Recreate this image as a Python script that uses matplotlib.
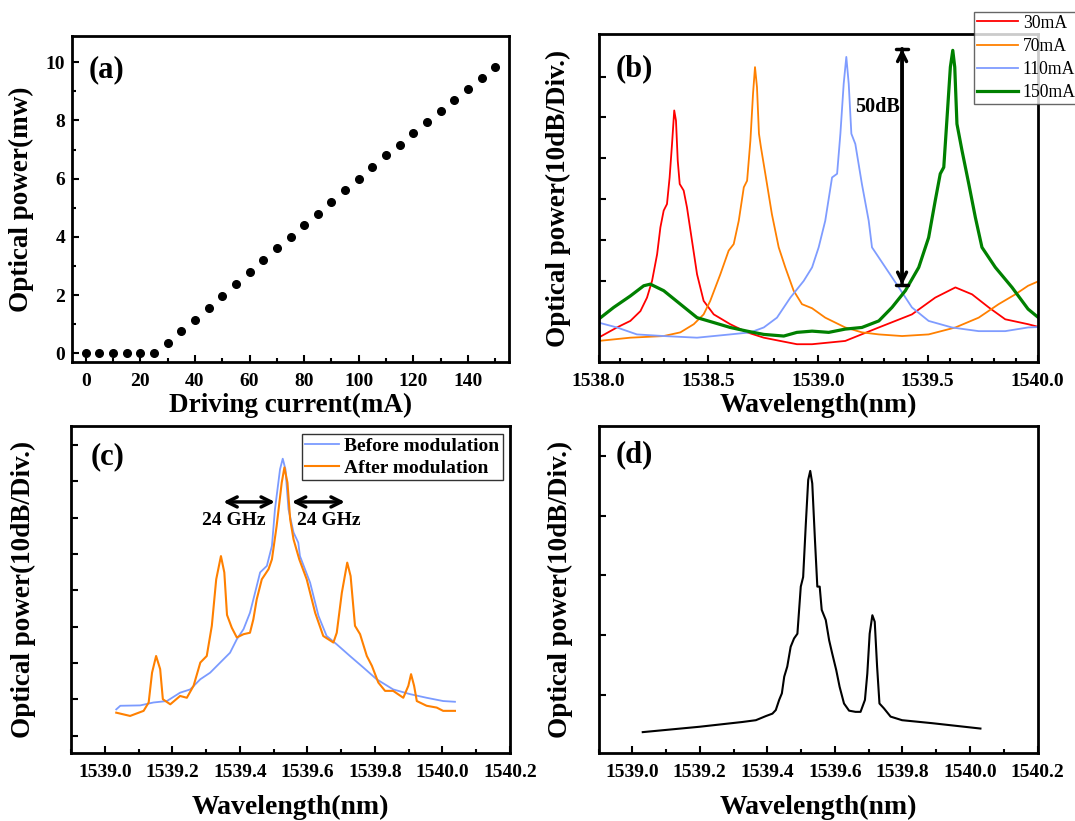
import numpy as np
import matplotlib
matplotlib.use('Agg')
import matplotlib.pyplot as plt
from matplotlib.ticker import MultipleLocator, FormatStrFormatter

plt.rcParams['font.family'] = ['Liberation Serif', 'DejaVu Serif']
plt.rcParams['font.weight'] = 'bold'
plt.rcParams['axes.labelweight'] = 'bold'
plt.rcParams['axes.linewidth'] = 2.0

# (a) L-I curve
current = [0, 5, 10, 15, 20, 25, 30, 35, 40, 45, 50, 55, 60, 65, 70, 75,
           80, 85, 90, 95, 100, 105, 110, 115, 120, 125, 130, 135, 140, 145, 150]
power = [0, 0, 0, 0, 0, 0, 0.35, 0.75, 1.15, 1.55, 1.97, 2.38, 2.78, 3.2, 3.6, 4.0,
         4.4, 4.8, 5.2, 5.6, 6.0, 6.4, 6.8, 7.17, 7.57, 7.93, 8.32, 8.7, 9.07, 9.45, 9.85]

# (b) spectra at several driving currents (dB, arbitrary reference)
wl_30 = [1538.000, 1538.084, 1538.145, 1538.191, 1538.221, 1538.244, 1538.267, 1538.282,
         1538.297, 1538.312, 1538.324, 1538.335, 1538.345, 1538.353, 1538.361, 1538.370,
         1538.388, 1538.403, 1538.426, 1538.449, 1538.479, 1538.525, 1538.600, 1538.677,
         1538.753, 1538.828, 1538.904, 1538.973, 1539.124, 1539.277, 1539.428, 1539.534,
         1539.626, 1539.702, 1539.778, 1539.853, 1539.957, 1540.000]
p_30 = [-73.9, -71.4, -69.8, -67.4, -64.1, -60.0, -53.5, -46.9,
        -42.8, -41.2, -34.7, -26.5, -18.3, -20.8, -30.6, -36.3,
        -37.9, -42.0, -50.2, -58.4, -64.9, -68.2, -70.6, -72.6,
        -73.9, -74.7, -75.5, -75.5, -74.7, -71.4, -68.2, -64.1,
        -61.6, -63.3, -66.5, -69.4, -70.6, -71.2]

wl_70 = [1538.000, 1538.145, 1538.297, 1538.373, 1538.434, 1538.479, 1538.509, 1538.555,
         1538.593, 1538.616, 1538.639, 1538.662, 1538.677, 1538.692, 1538.704, 1538.713,
         1538.722, 1538.731, 1538.740, 1538.760, 1538.790, 1538.821, 1538.851, 1538.889,
         1538.927, 1538.973, 1539.033, 1539.124, 1539.200, 1539.277, 1539.383, 1539.504,
         1539.626, 1539.732, 1539.823, 1539.899, 1539.957, 1540.000]
p_70 = [-74.7, -73.9, -73.5, -72.6, -70.6, -68.2, -64.9, -58.4,
        -52.6, -51.0, -45.3, -37.1, -35.5, -25.7, -14.2, -7.7,
        -12.6, -24.0, -27.3, -33.8, -43.7, -51.8, -56.7, -62.4,
        -65.7, -66.7, -69.0, -71.4, -72.6, -73.1, -73.5, -73.1,
        -71.4, -69.0, -65.7, -63.3, -61.2, -60.2]

wl_110 = [1538.000, 1538.084, 1538.175, 1538.297, 1538.449, 1538.600, 1538.692, 1538.753,
          1538.813, 1538.874, 1538.935, 1538.973, 1539.003, 1539.033, 1539.064, 1539.087,
          1539.102, 1539.117, 1539.129, 1539.140, 1539.152, 1539.170, 1539.200, 1539.231,
          1539.246, 1539.307, 1539.368, 1539.428, 1539.504, 1539.610, 1539.732, 1539.853,
          1539.957, 1540.000]
p_110 = [-70.2, -71.4, -73.1, -73.5, -73.9, -73.1, -72.6, -71.4,
         -69.0, -64.1, -60.0, -56.7, -51.8, -45.3, -34.7, -33.8,
         -24.0, -11.8, -5.2, -11.8, -24.0, -26.5, -36.3, -45.3,
         -51.8, -56.7, -61.6, -66.5, -69.8, -71.4, -72.3, -72.3,
         -71.4, -71.3]

wl_150 = [1538.000, 1538.069, 1538.145, 1538.206, 1538.236, 1538.297, 1538.373, 1538.449,
          1538.525, 1538.600, 1538.677, 1538.753, 1538.844, 1538.904, 1538.973, 1539.049,
          1539.124, 1539.200, 1539.277, 1539.337, 1539.398, 1539.459, 1539.504, 1539.534,
          1539.557, 1539.573, 1539.588, 1539.603, 1539.614, 1539.623, 1539.633, 1539.656,
          1539.687, 1539.717, 1539.747, 1539.808, 1539.884, 1539.957, 1540.000]
p_150 = [-69.4, -66.5, -63.7, -61.2, -60.8, -62.4, -65.7, -69.0,
         -70.2, -71.4, -72.3, -73.1, -73.5, -72.6, -72.3, -72.6,
         -71.8, -71.4, -69.8, -66.5, -62.4, -56.7, -49.4, -40.4,
         -33.8, -32.2, -20.0, -7.7, -3.6, -7.7, -21.6, -28.1,
         -36.3, -44.5, -51.8, -56.7, -61.6, -66.9, -68.8]

# (c) before / after modulation
wl_before = [1539.034, 1539.046, 1539.105, 1539.144, 1539.184, 1539.223, 1539.253, 1539.283,
             1539.312, 1539.342, 1539.371, 1539.391, 1539.411, 1539.430, 1539.445, 1539.460,
             1539.480, 1539.495, 1539.504, 1539.519, 1539.527, 1539.535, 1539.544, 1539.559,
             1539.573, 1539.578, 1539.608, 1539.633, 1539.657, 1539.687, 1539.726, 1539.766,
             1539.805, 1539.854, 1539.904, 1539.953, 1540.002, 1540.037]
p_before = [-72.8, -71.8, -71.7, -70.9, -70.5, -68.2, -67.3, -64.5,
            -62.7, -59.9, -57.2, -53.5, -50.7, -46.2, -40.7, -35.1,
            -33.3, -27.8, -17.7, -6.7, -3.8, -6.7, -17.7, -24.1,
            -26.9, -30.6, -37.9, -47.1, -52.6, -54.9, -58.1, -61.3,
            -64.5, -67.3, -68.6, -69.6, -70.5, -70.7]

wl_after = [1539.034, 1539.075, 1539.115, 1539.130, 1539.140, 1539.152, 1539.164, 1539.172,
            1539.194, 1539.223, 1539.243, 1539.263, 1539.283, 1539.302, 1539.317, 1539.330,
            1539.344, 1539.354, 1539.362, 1539.376, 1539.391, 1539.411, 1539.430, 1539.440,
            1539.450, 1539.465, 1539.485, 1539.495, 1539.509, 1539.524, 1539.532, 1539.541,
            1539.549, 1539.559, 1539.576, 1539.598, 1539.623, 1539.647, 1539.677, 1539.687,
            1539.702, 1539.718, 1539.728, 1539.741, 1539.756, 1539.776, 1539.791, 1539.810,
            1539.830, 1539.854, 1539.884, 1539.899, 1539.907, 1539.916, 1539.924, 1539.953,
            1539.983, 1540.002, 1540.037]
p_after = [-73.7, -74.6, -73.2, -70.9, -62.7, -58.1, -61.7, -70.0,
           -71.4, -69.1, -69.6, -66.3, -59.9, -58.1, -49.8, -37.0,
           -30.6, -35.1, -46.8, -50.3, -53.0, -52.1, -51.7, -48.0,
           -42.5, -37.0, -34.2, -31.5, -22.3, -10.4, -6.2, -10.4,
           -20.5, -26.0, -31.5, -37.0, -46.2, -52.6, -54.4, -51.7,
           -40.7, -32.4, -36.1, -49.8, -52.1, -58.1, -60.8, -65.4,
           -67.7, -67.7, -69.6, -66.3, -63.1, -66.3, -70.5, -71.8,
           -72.3, -73.2, -73.2]

# (d) filtered spectrum
wl_d = [1539.031, 1539.199, 1539.326, 1539.366, 1539.396, 1539.415, 1539.425, 1539.435,
        1539.443, 1539.450, 1539.459, 1539.469, 1539.479, 1539.489, 1539.499, 1539.506,
        1539.514, 1539.521, 1539.527, 1539.533, 1539.541, 1539.548, 1539.555, 1539.561,
        1539.573, 1539.583, 1539.592, 1539.604, 1539.614, 1539.627, 1539.642, 1539.661,
        1539.676, 1539.689, 1539.696, 1539.703, 1539.711, 1539.718, 1539.725, 1539.732,
        1539.745, 1539.765, 1539.799, 1539.888, 1540.031]
p_d = [-56.3, -55.4, -54.6, -54.3, -53.6, -53.2, -52.6, -50.9,
       -49.8, -47.0, -45.3, -42.0, -40.6, -39.8, -31.9, -30.3,
       -21.3, -14.0, -12.5, -14.6, -24.1, -31.9, -31.9, -35.8,
       -37.5, -40.9, -43.1, -45.9, -48.7, -51.5, -52.7, -52.9,
       -52.9, -50.9, -46.5, -39.8, -36.7, -37.8, -45.3, -51.5,
       -52.3, -53.7, -54.3, -54.8, -55.7]

W, H = 1075, 821
fig = plt.figure(figsize=(W / 100, H / 100), dpi=100)


def add_ax(left, right, top, bottom):
    return fig.add_axes([left / W, 1 - bottom / H, (right - left) / W, (bottom - top) / H])


def style(ax):
    ax.tick_params(which='both', direction='in', top=False, right=False, width=1.5)
    ax.tick_params(which='major', length=5, labelsize=14)
    ax.tick_params(which='minor', length=3)
    ax.tick_params(axis='x', which='both', pad=8)
    ax.tick_params(axis='y', which='both', pad=5)
    for s in ax.spines.values():
        s.set_linewidth(2.0)


ax1 = add_ax(72, 509, 36, 362)
ax2 = add_ax(598.5, 1037.5, 34, 362)
ax3 = add_ax(71, 510, 426, 753)
ax4 = add_ax(598.5, 1037.5, 426, 753)

# (a)
ax1.plot(current, power, 'o', color='black', ms=5.5)
ax1.set_xlim(-5, 155)
ax1.set_ylim(-0.3, 10.9)
ax1.xaxis.set_major_locator(MultipleLocator(20))
ax1.xaxis.set_minor_locator(MultipleLocator(10))
ax1.yaxis.set_major_locator(MultipleLocator(2))
ax1.yaxis.set_minor_locator(MultipleLocator(1))
style(ax1)
ax1.set_xlabel('Driving current(mA)', fontsize=19.5, labelpad=2)
ax1.set_ylabel('Optical power(mw)', fontsize=19.5)
ax1.yaxis.set_label_coords(-0.0865, 0.5)
ax1.text(0.039, 0.896, '(a)', transform=ax1.transAxes, fontsize=22, va='center')

# (b)
ax2.plot(wl_30, p_30, color='#ff0000', lw=1.3, label='30mA')
ax2.plot(wl_70, p_70, color='#ff8000', lw=1.3, label='70mA')
ax2.plot(wl_110, p_110, color='#7f9cff', lw=1.3, label='110mA')
ax2.plot(wl_150, p_150, color='#008000', lw=2.3, label='150mA')
ax2.set_xlim(1538.0, 1540.0)
ax2.set_ylim(-79.85, 0.4)
ax2.set_xticks([1538.0, 1538.5, 1539.0, 1539.5, 1540.0])
ax2.xaxis.set_minor_locator(MultipleLocator(0.1))
ax2.set_yticks([-60, -50, -40, -30, -20, -10])
ax2.set_yticklabels([])
ax2.xaxis.set_major_formatter(FormatStrFormatter('%.1f'))
style(ax2)
ax2.set_xlabel('Wavelength(nm)', fontsize=20, labelpad=2)
ax2.set_ylabel('Optical power(10dB/Div.)', fontsize=19.5)
ax2.yaxis.set_label_coords(-0.062, 0.5)
ax2.text(0.038, 0.893, '(b)', transform=ax2.transAxes, fontsize=22, va='center')
ax2.annotate('', xy=(1539.383, -3.2), xytext=(1539.383, -61.0),
             arrowprops=dict(arrowstyle='<->', color='black', lw=2.5,
                             mutation_scale=16, shrinkA=0, shrinkB=0))
ax2.annotate('', xy=(1539.383, -3.2), xytext=(1539.383, -61.0),
             arrowprops=dict(arrowstyle='|-|, widthA=0.45, widthB=0.45', color='black', lw=2.5,
                             shrinkA=0, shrinkB=0))
ax2.text(1539.371, -17.5, '50dB', fontsize=14.5, ha='right', va='center')
leg2 = ax2.legend(loc='upper left', bbox_to_anchor=(974 / W, 1 - 12 / H),
                  bbox_transform=fig.transFigure, borderaxespad=0, frameon=True,
                  fancybox=False, edgecolor='#404040', handlelength=2.33,
                  borderpad=0.15, labelspacing=0.35, handletextpad=0.28,
                  prop={'weight': 'normal', 'size': 12.7})
leg2.get_frame().set_linewidth(1.0)

# (c)
ax3.plot(wl_before, p_before, color='#7b9bff', lw=1.3, label='Before modulation')
ax3.plot(wl_after, p_after, color='#ff8000', lw=1.5, label='After modulation')
ax3.set_xlim(1538.9, 1540.2)
ax3.set_ylim(-84.8, 5.2)
ax3.set_xticks([1539.0, 1539.2, 1539.4, 1539.6, 1539.8, 1540.0, 1540.2])
ax3.xaxis.set_minor_locator(MultipleLocator(0.1))
ax3.set_yticks(np.arange(-80, 1, 10))
ax3.set_yticklabels([])
ax3.xaxis.set_major_formatter(FormatStrFormatter('%.1f'))
style(ax3)
ax3.set_xlabel('Wavelength(nm)', fontsize=20, labelpad=10)
ax3.set_ylabel('Optical power(10dB/Div.)', fontsize=19.5)
ax3.yaxis.set_label_coords(-0.080, 0.5)
ax3.text(0.045, 0.906, '(c)', transform=ax3.transAxes, fontsize=22, va='center')
for x0, x1, xt in [(1539.351, 1539.504, 1539.381), (1539.554, 1539.711, 1539.662)]:
    ax3.annotate('', xy=(x1, -15.7), xytext=(x0, -15.7),
                 arrowprops=dict(arrowstyle='<->', color='black', lw=2.5,
                                 mutation_scale=18, shrinkA=0, shrinkB=0))
    ax3.text(xt, -20.9, '24 GHz', fontsize=14, ha='center', va='center')
leg3 = ax3.legend(loc='upper right', bbox_to_anchor=(0.983, 0.975), borderaxespad=0,
                  fancybox=False, edgecolor='black', handlelength=1.75,
                  borderpad=0.15, labelspacing=0.25, handletextpad=0.3,
                  prop={'weight': 'bold', 'size': 14})
leg3.get_frame().set_linewidth(1.0)

# (d)
ax4.plot(wl_d, p_d, color='black', lw=1.5)
ax4.set_xlim(1538.9, 1540.2)
ax4.set_ylim(-59.8, -4.97)
ax4.set_xticks([1539.0, 1539.2, 1539.4, 1539.6, 1539.8, 1540.0, 1540.2])
ax4.xaxis.set_minor_locator(MultipleLocator(0.1))
ax4.set_yticks([-50, -40, -30, -20, -10])
ax4.set_yticklabels([])
ax4.xaxis.set_major_formatter(FormatStrFormatter('%.1f'))
style(ax4)
ax4.set_xlabel('Wavelength(nm)', fontsize=20, labelpad=10)
ax4.set_ylabel('Optical power(10dB/Div.)', fontsize=19.5)
ax4.yaxis.set_label_coords(-0.059, 0.5)
ax4.text(0.038, 0.911, '(d)', transform=ax4.transAxes, fontsize=22, va='center')

fig.savefig('out.png', dpi=100)
